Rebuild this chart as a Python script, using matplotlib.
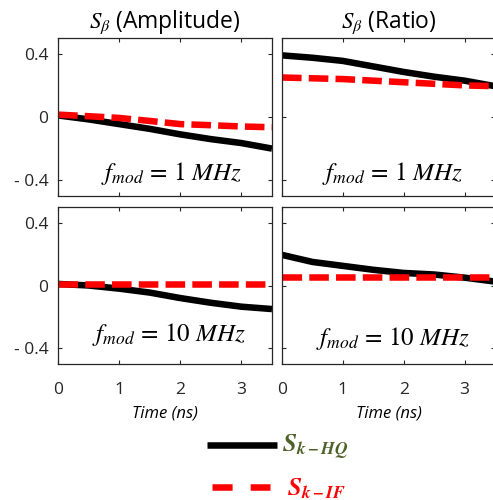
import matplotlib
matplotlib.use("Agg")
import matplotlib.pyplot as plt
from matplotlib.lines import Line2D
import numpy as np

plt.rcParams['font.family'] = ['Open Sans', 'DejaVu Sans']
plt.rcParams['mathtext.fontset'] = 'stix'

# Data
t_pts = [0, 0.5, 1, 1.5, 2, 2.5, 3, 3.5]
amp1_hq = [0.01, -0.015, -0.045, -0.075, -0.11, -0.14, -0.165, -0.2]
amp1_if = [0.015, 0.005, -0.006, -0.025, -0.045, -0.052, -0.06, -0.065]
rat1_hq = [0.39, 0.375, 0.355, 0.32, 0.285, 0.255, 0.23, 0.195]
rat1_if = [0.25, 0.245, 0.24, 0.23, 0.22, 0.21, 0.2, 0.195]
amp10_hq = [0.01, 0.0, -0.02, -0.045, -0.08, -0.11, -0.135, -0.15]
amp10_if = [0.01, 0.01, 0.01, 0.01, 0.01, 0.01, 0.01, 0.01]
rat10_hq = [0.195, 0.15, 0.125, 0.1, 0.08, 0.07, 0.05, 0.025]
rat10_if = [0.055, 0.055, 0.055, 0.055, 0.055, 0.055, 0.055, 0.055]

titles = [r'$S_\beta$ (Amplitude)', r'$S_\beta$ (Ratio)']
annots = [r'$f_{mod}\,=\,1\ MHz$', r'$f_{mod}\,=\,10\ MHz$']
yticks = [-0.4, 0, 0.4]
ytick_labels = ['- 0.4', '0', '0.4']
xticks = [0, 1, 2, 3]
xlabel = 'Time (ns)'
legend_labels = [r'$\mathbfit{S}_{\mathbfit{k-HQ}}$', r'$\mathbfit{S}_{\mathbfit{k-IF}}$']

W, H = 493, 500
fig = plt.figure(figsize=(W/100, H/100), dpi=100)

lefts = [58/W, 282/W]
widths = [214/W, 213/W]
bottoms = [1 - 196/H, 1 - 364/H]
heights = [158/H, 157/H]

data = [[(amp1_hq, amp1_if), (rat1_hq, rat1_if)],
        [(amp10_hq, amp10_if), (rat10_hq, rat10_if)]]
annot_y = [[0.145, 0.145], [0.185, 0.165]]
annot_x = [[0.53, 0.52], [0.52, 0.52]]

for r in range(2):
    for c in range(2):
        ax = fig.add_axes([lefts[c], bottoms[r], widths[c], heights[r]])
        hq, iff = data[r][c]
        ax.plot(t_pts, hq, color='black', lw=4.7, solid_capstyle='butt')
        ax.plot(t_pts, iff, color='#ff0000', lw=4.7, dashes=(3.0, 1.1))
        ax.set_xlim(0, 3.5)
        ax.set_ylim(-0.5, 0.5)
        ax.set_yticks(yticks)
        ax.set_xticks(xticks)
        ax.tick_params(direction='in', top=True, right=True, length=3,
                       labelsize=12.5, colors='#262626')
        ax.tick_params(axis='y', pad=7)
        ax.tick_params(axis='x', pad=13)
        if c == 0:
            ax.set_yticklabels(ytick_labels)
        else:
            ax.set_yticklabels([])
        if r == 0:
            ax.set_xticklabels([])
            ax.set_title(titles[c], fontsize=16.5, pad=7)
        else:
            ax.set_xticklabels([str(v) for v in xticks])
            ax.set_xlabel(xlabel, fontstyle='italic', fontsize=12, labelpad=5)
        for s in ax.spines.values():
            s.set_color('#262626')
            s.set_linewidth(0.9)
        ax.text(annot_x[r][c], annot_y[r][c], annots[r], transform=ax.transAxes,
                ha='center', va='center', fontsize=18)

# Legend (manual)
fig.add_artist(Line2D([207/W, 277/W], [1-445/H, 1-445/H], color='black', lw=4.7,
                      solid_capstyle='butt'))
fig.add_artist(Line2D([212/W, 269.5/W], [1-487/H, 1-487/H], color='#ff0000', lw=4.7,
                      dashes=(3.08, 2.77), dash_capstyle='butt'))
fig.text(282/W, 1-447/H, legend_labels[0], color='#4f6228', fontsize=18,
         ha='left', va='center')
fig.text(287/W, 1-489/H, legend_labels[1], color='#ff0000', fontsize=18,
         ha='left', va='center')

fig.savefig('out.png', dpi=100)
